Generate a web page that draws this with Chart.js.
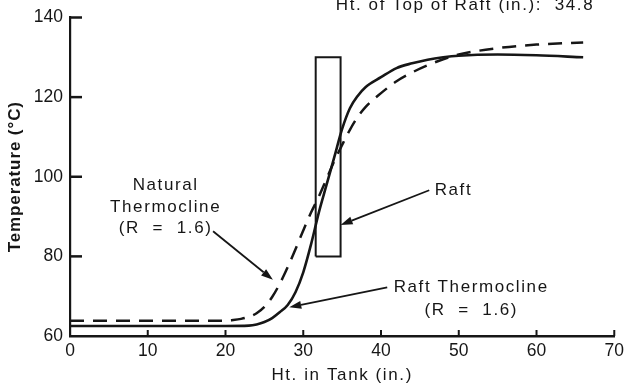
<!DOCTYPE html>
<html><head><meta charset="utf-8">
<script src="https://cdn.jsdelivr.net/npm/chart.js@4/dist/chart.umd.min.js"></script>
<style>html,body{margin:0;padding:0;background:#fff}</style>
</head><body>
<canvas id="c" width="629" height="387"></canvas>
<script>
// ---- data ----
const raftHeights = [0, 10, 20, 23, 24, 25, 26, 27, 28, 29, 30, 31, 32, 33, 34, 35, 36, 37, 38, 40, 42, 44, 46, 48, 50, 55, 60, 66];
const raftTemps   = [62.5, 62.5, 62.5, 62.6, 62.9, 63.5, 64.5, 66, 67.8, 71, 76, 83, 91, 98, 105, 112, 117.2, 120.3, 122.5, 125, 127.3, 128.5, 129.4, 130, 130.4, 130.7, 130.5, 130];
const naturalHeights = [0, 10, 20, 21, 22, 23, 24, 25, 26, 27, 28, 29, 30, 31, 32, 33, 34, 35, 36, 37, 38, 40, 42, 44, 46, 48, 50, 55, 60, 66];
const naturalTemps   = [63.8, 63.8, 63.8, 64, 64.3, 64.8, 65.7, 67.3, 69.8, 73.2, 77.3, 81.8, 86.5, 91, 95, 99.5, 104, 108, 111.8, 115, 117.5, 121, 124, 126.2, 128, 129.5, 130.7, 132.3, 133.2, 133.7];
const raftBoxHeights = [31.6, 31.6, 34.8, 34.8, 31.6];
const raftBoxTemps   = [80, 130, 130, 80, 80];
const xTicks = [0, 10, 20, 30, 40, 50, 60, 70];
const yTicks = [60, 80, 100, 120, 140];

const pts = (xs, ys) => xs.map((x, i) => ({x, y: ys[i]}));
const INK = '#161616';
const FONT = "'Liberation Sans', Arial, sans-serif";

// annotation layout (data coordinates)
const notes = [
  {text: 'Natural', x: 12.3, y: 97.9, align: 'center'},
  {text: 'Thermocline', x: 12.3, y: 92.4, align: 'center'},
  {text: '(R  =  1.6)', x: 12.3, y: 87.0, align: 'center'},
  {text: 'Raft', x: 46.9, y: 96.6, align: 'left'},
  {text: 'Raft Thermocline', x: 51.6, y: 72.2, align: 'center'},
  {text: '(R  =  1.6)', x: 51.6, y: 66.4, align: 'center'},
  {text: 'Ht. of Top of Raft (in.):  34.8', x: 50.8, y: 143.0, align: 'center'}
];
const arrows = [
  {from: [18.4, 86.3], to: [26.1, 74.1]},
  {from: [46.2, 96.6], to: [34.8, 87.9]},
  {from: [40.8, 72.2], to: [28.2, 67.2]}
];
const titleSpacing = {x: '1.6px', y: '0.9px'};

const deco = {
  id: 'deco',
  afterLayout(chart) {
    ['x', 'y'].forEach(k => {
      const s = chart.scales[k];
      if (s._patched) return;
      const orig = s.drawTitle;
      s.drawTitle = function () {
        const ctx = this.ctx;
        ctx.save();
        ctx.letterSpacing = titleSpacing[k];
        orig.apply(this, arguments);
        ctx.restore();
      };
      s._patched = true;
    });
  },
  afterDraw(chart) {
    const ctx = chart.ctx, xs = chart.scales.x, ys = chart.scales.y;
    const area = chart.chartArea;
    ctx.save();
    // inward tick marks
    ctx.strokeStyle = INK;
    ctx.lineWidth = 2.5;
    yTicks.forEach(v => {
      if (v === 60) return;
      const py = ys.getPixelForValue(v);
      ctx.beginPath(); ctx.moveTo(area.left, py); ctx.lineTo(area.left + 12, py); ctx.stroke();
    });
    ctx.lineWidth = 2;
    xTicks.forEach(v => {
      if (v === 0) return;
      const px = xs.getPixelForValue(v);
      ctx.beginPath(); ctx.moveTo(px, area.bottom); ctx.lineTo(px, area.bottom - 6); ctx.stroke();
    });
    // arrows
    ctx.lineWidth = 1.8;
    ctx.fillStyle = INK;
    arrows.forEach(a => {
      const x1 = xs.getPixelForValue(a.from[0]), y1 = ys.getPixelForValue(a.from[1]);
      const x2 = xs.getPixelForValue(a.to[0]), y2 = ys.getPixelForValue(a.to[1]);
      const ang = Math.atan2(y2 - y1, x2 - x1);
      const L = 12, W = 4;
      const bx = x2 - L * Math.cos(ang), by = y2 - L * Math.sin(ang);
      ctx.beginPath(); ctx.moveTo(x1, y1); ctx.lineTo(bx, by); ctx.stroke();
      ctx.beginPath();
      ctx.moveTo(x2, y2);
      ctx.lineTo(bx + W * Math.sin(ang), by - W * Math.cos(ang));
      ctx.lineTo(bx - W * Math.sin(ang), by + W * Math.cos(ang));
      ctx.closePath(); ctx.fill();
    });
    // text notes
    ctx.font = '17px ' + FONT;
    ctx.letterSpacing = '1.6px';
    ctx.textBaseline = 'middle';
    notes.forEach(n => {
      ctx.textAlign = n.align;
      ctx.fillText(n.text, xs.getPixelForValue(n.x), ys.getPixelForValue(n.y));
    });
    ctx.restore();
  }
};

new Chart(document.getElementById('c'), {
  type: 'line',
  data: {
    datasets: [
      {label: 'Raft Thermocline (R = 1.6)', data: pts(raftHeights, raftTemps), borderColor: INK, borderWidth: 2.6,
       pointRadius: 0, cubicInterpolationMode: 'monotone', fill: false},
      {label: 'Natural Thermocline (R = 1.6)', data: pts(naturalHeights, naturalTemps), borderColor: INK, borderWidth: 2.5,
       borderDash: [14, 9], pointRadius: 0, cubicInterpolationMode: 'monotone', fill: false},
      {label: 'Raft', data: pts(raftBoxHeights, raftBoxTemps), borderColor: INK, borderWidth: 2,
       pointRadius: 0, tension: 0, fill: false}
    ]
  },
  options: {
    responsive: false,
    animation: false,
    devicePixelRatio: 1,
    layout: {padding: {left: 0, right: 7, top: 13, bottom: 0}},
    plugins: {legend: {display: false}, tooltip: {enabled: false}},
    scales: {
      x: {
        type: 'linear', min: 0, max: 70,
        afterFit(s) { s.height = 51; },
        afterBuildTicks(s) { s.ticks = xTicks.map(v => ({value: v})); },
        grid: {display: false, drawTicks: false},
        border: {display: true, color: INK, width: 2.5},
        ticks: {color: INK, padding: 5, font: {family: FONT, size: 17.5}, maxRotation: 0},
        title: {display: true, text: 'Ht. in Tank (in.)', color: INK, font: {family: FONT, size: 17}, padding: {top: 0, bottom: 1}}
      },
      y: {
        type: 'linear', min: 60, max: 140,
        afterFit(s) { s.width = 70; },
        afterBuildTicks(s) { s.ticks = yTicks.map(v => ({value: v})); },
        grid: {display: false, drawTicks: false},
        border: {display: true, color: INK, width: 2.2},
        ticks: {color: INK, padding: 7, font: {family: FONT, size: 17.5}},
        title: {display: true, text: 'Temperature (°C)', color: INK, font: {family: FONT, size: 17, weight: 'bold'}, padding: {top: 5, bottom: 0}}
      }
    }
  },
  plugins: [deco]
});
</script>
</body></html>
